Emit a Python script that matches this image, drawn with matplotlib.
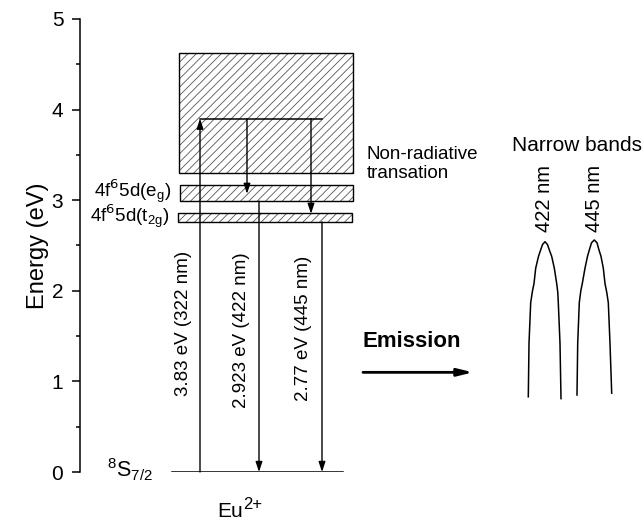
import matplotlib
matplotlib.use('Agg')
import matplotlib.pyplot as plt
import numpy as np

plt.rcParams['font.family'] = ['Liberation Sans', 'DejaVu Sans']
plt.rcParams['hatch.linewidth'] = 0.6

# Energy levels of Eu2+ (eV): bottom, top of each band
cb_band = (3.30, 4.63)
eg_band = (2.99, 3.17)
t2g_band = (2.76, 2.86)
ground = 0.0
excite_level = 3.90
eg_stop = 3.07
t2g_stop = 2.85

# horizontal positions (arbitrary diagram units)
cb_x = (99, 273)
eg_x = (100, 273)
t2g_x = (98, 272)
ground_x = (92, 263)
x_up = 120
x_nr1, x_em1 = 167, 179
x_nr2, x_em2 = 231, 242

transitions = ['3.83 eV (322 nm)', '2.923 eV (422 nm)', '2.77 eV (445 nm)']
trans_x = [104, 162, 223]
trans_y = [1.64, 1.57, 1.59]

# emission band outlines
peak1_x = [448.3, 449.0, 450.7, 452.5, 454.0, 455.7, 458.5, 460.0, 462.5, 465.0,
           467.5, 470.0, 471.7, 474.3, 476.7, 477.8, 478.3, 480.0, 481.0]
peak1_y = [0.83, 1.42, 1.87, 2.00, 2.08, 2.25, 2.38, 2.43, 2.51, 2.542,
           2.51, 2.43, 2.38, 2.25, 2.08, 1.98, 1.87, 1.42, 0.81]
peak2_x = [497.0, 497.7, 499.3, 500.8, 502.3, 505.0, 507.5, 509.3, 511.5, 514.3,
           517.0, 519.0, 521.0, 523.3, 525.0, 526.8, 528.3, 530.0, 531.7]
peak2_y = [0.85, 1.42, 1.87, 2.00, 2.08, 2.25, 2.38, 2.45, 2.53, 2.561,
           2.53, 2.45, 2.38, 2.25, 2.08, 1.98, 1.87, 1.42, 0.87]
peak_labels = ['422 nm', '445 nm']

fig = plt.figure(figsize=(6.44, 5.21), dpi=100)
ax = fig.add_axes([80 / 644, 49 / 521, 560 / 644, 453 / 521])
ax.set_xlim(0, 560)
ax.set_ylim(0, 5)

for (x0, x1), (y0, y1) in [(cb_x, cb_band), (eg_x, eg_band), (t2g_x, t2g_band)]:
    # hatch in grey, outline in black
    ax.add_patch(plt.Rectangle((x0, y0), x1 - x0, y1 - y0, facecolor='white',
                               edgecolor='#555555', hatch='////', linewidth=0))
    ax.add_patch(plt.Rectangle((x0, y0), x1 - x0, y1 - y0, fill=False,
                               edgecolor='black', linewidth=1.0))

ax.plot(ground_x, [ground, ground], color='black', lw=1.1)
ax.plot([x_up, x_em2], [excite_level, excite_level], color='black', lw=1.1)

arrow = dict(arrowstyle='-|>,head_length=0.6,head_width=0.2', color='black', lw=1.0,
             shrinkA=0, shrinkB=0)
ax.annotate('', xy=(x_up, excite_level), xytext=(x_up, ground), arrowprops=arrow)
ax.annotate('', xy=(x_nr1, eg_stop), xytext=(x_nr1, excite_level), arrowprops=arrow)
ax.annotate('', xy=(x_nr2, t2g_stop), xytext=(x_nr2, excite_level), arrowprops=arrow)
ax.annotate('', xy=(x_em1, ground), xytext=(x_em1, eg_band[0]), arrowprops=arrow)
ax.annotate('', xy=(x_em2, ground), xytext=(x_em2, t2g_band[0]), arrowprops=arrow)

for t, x, y in zip(transitions, trans_x, trans_y):
    ax.text(x, y, t, rotation=90, ha='center', va='center', fontsize=13.5)

ax.text(91, 3.09, r'4f$^6$5d(e$_\mathregular{g}$)', ha='right', va='center', fontsize=13.5)
ax.text(89, 2.81, r'4f$^6$5d(t$_\mathregular{2g}$)', ha='right', va='center', fontsize=13.5)
ax.text(27, 0.03, r'$^\mathregular{8}$S$_\mathregular{7/2}$', ha='left', va='center', fontsize=15.5,
        clip_on=False)
ax.text(137, -0.50, 'Eu', ha='left', va='baseline', fontsize=15, clip_on=False)
ax.text(163.5, -0.41, '2+', ha='left', va='baseline', fontsize=12, clip_on=False)

ax.text(287, 3.40, 'Non-radiative\ntransation', ha='left', va='center', fontsize=13.5,
        linespacing=1.15)
ax.text(497, 3.60, 'Narrow bands', ha='center', va='center', fontsize=15)

ax.plot(peak1_x, peak1_y, color='black', lw=1.1)
ax.plot(peak2_x, peak2_y, color='black', lw=1.1)
for lab, x in zip(peak_labels, [465, 514]):
    ax.text(x, 3.02, lab, rotation=90, ha='center', va='center', fontsize=14.5)

ax.text(283, 1.44, 'Emission', ha='left', va='center', fontsize=16, fontweight='bold')
ax.annotate('', xy=(393, 1.10), xytext=(283, 1.10),
            arrowprops=dict(arrowstyle='-|>,head_length=0.9,head_width=0.22', color='black',
                            lw=2.0, shrinkA=0, shrinkB=0))

for s in ['top', 'right', 'bottom']:
    ax.spines[s].set_visible(False)
ax.spines['left'].set_linewidth(1.1)
ax.set_xticks([])
ax.set_yticks([0, 1, 2, 3, 4, 5])
ax.set_yticks(np.arange(0.5, 5, 1.0), minor=True)
ax.tick_params(axis='y', which='major', length=6, width=1.1, pad=6, labelsize=15)
ax.tick_params(axis='y', which='minor', length=3, width=1.1)
ax.set_ylabel('Energy (eV)', fontsize=17, labelpad=2)

fig.savefig('out.png', dpi=100)
